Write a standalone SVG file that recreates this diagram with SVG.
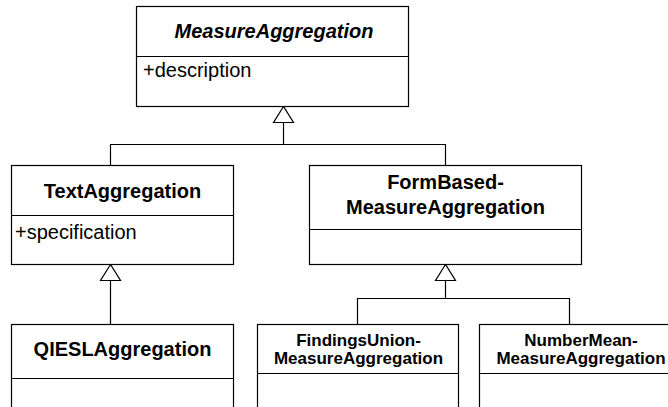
<svg xmlns="http://www.w3.org/2000/svg" width="668" height="407" viewBox="0 0 668 407">
<style>
.box{fill:#fff;stroke:#000;stroke-width:1.2}
.div{stroke:#000;stroke-width:1.2}
.t{font-family:"Liberation Sans",Arial,sans-serif;fill:#000}
.title{font-size:20px;font-weight:bold;text-anchor:middle}
.small{font-size:17px;font-weight:bold;text-anchor:middle}
.attr{font-size:20px}
.conn{fill:none;stroke:#000;stroke-width:1.2}
.gen{fill:#fff;stroke:#000;stroke-width:1.2}
</style>
<rect width="668" height="407" fill="#fff"/>
<g id="connectors">
<polyline class="conn" points="283.5,122.5 283.5,144.5"/>
<polyline class="conn" points="110.5,165.5 110.5,144.5 445.5,144.5 445.5,165.5"/>
<polygon class="gen" points="283.5,106.5 273.5,122.5 293.5,122.5"/>
<polyline class="conn" points="110.5,280.5 110.5,324.5"/>
<polygon class="gen" points="110.5,264.5 100.5,280.5 120.5,280.5"/>
<polyline class="conn" points="445.5,280.5 445.5,298.5"/>
<polyline class="conn" points="357.5,324.5 357.5,298.5 569.5,298.5 569.5,324.5"/>
<polygon class="gen" points="445.5,264.5 435.5,280.5 455.5,280.5"/>
</g>
<g id="MeasureAggregation">
<rect class="box" x="136.5" y="6.5" width="272" height="100"/>
<line class="div" x1="136.5" y1="56.5" x2="408.5" y2="56.5"/>
<text class="t title" x="274" y="38" font-style="italic">MeasureAggregation</text>
<text class="t attr" x="143" y="77">+description</text>
</g>
<g id="TextAggregation">
<rect class="box" x="11.5" y="165.5" width="222" height="99"/>
<line class="div" x1="11.5" y1="215.5" x2="233.5" y2="215.5"/>
<text class="t title" x="122.5" y="197.5">TextAggregation</text>
<text class="t attr" x="15" y="239">+specification</text>
</g>
<g id="FormBasedMeasureAggregation">
<rect class="box" x="309.5" y="165.5" width="272" height="99"/>
<line class="div" x1="309.5" y1="229.5" x2="581.5" y2="229.5"/>
<text class="t title" x="445.5" y="188.5">FormBased-</text>
<text class="t title" x="445.5" y="213.5">MeasureAggregation</text>
</g>
<g id="QIESLAggregation">
<rect class="box" x="11.5" y="324.5" width="222" height="100"/>
<line class="div" x1="11.5" y1="378.5" x2="233.5" y2="378.5"/>
<text class="t title" x="122.5" y="355.5">QIESLAggregation</text>
</g>
<g id="FindingsUnionMeasureAggregation">
<rect class="box" x="257.5" y="324.5" width="201" height="100"/>
<line class="div" x1="257.5" y1="373.5" x2="458.5" y2="373.5"/>
<text class="t small" x="358.5" y="346">FindingsUnion-</text>
<text class="t small" x="358.5" y="364">MeasureAggregation</text>
</g>
<g id="NumberMeanMeasureAggregation">
<rect class="box" x="479.5" y="324.5" width="202" height="100"/>
<line class="div" x1="479.5" y1="373.5" x2="681.5" y2="373.5"/>
<text class="t small" x="581" y="345.5">NumberMean-</text>
<text class="t small" x="581" y="363.5">MeasureAggregation</text>
</g>
</svg>
